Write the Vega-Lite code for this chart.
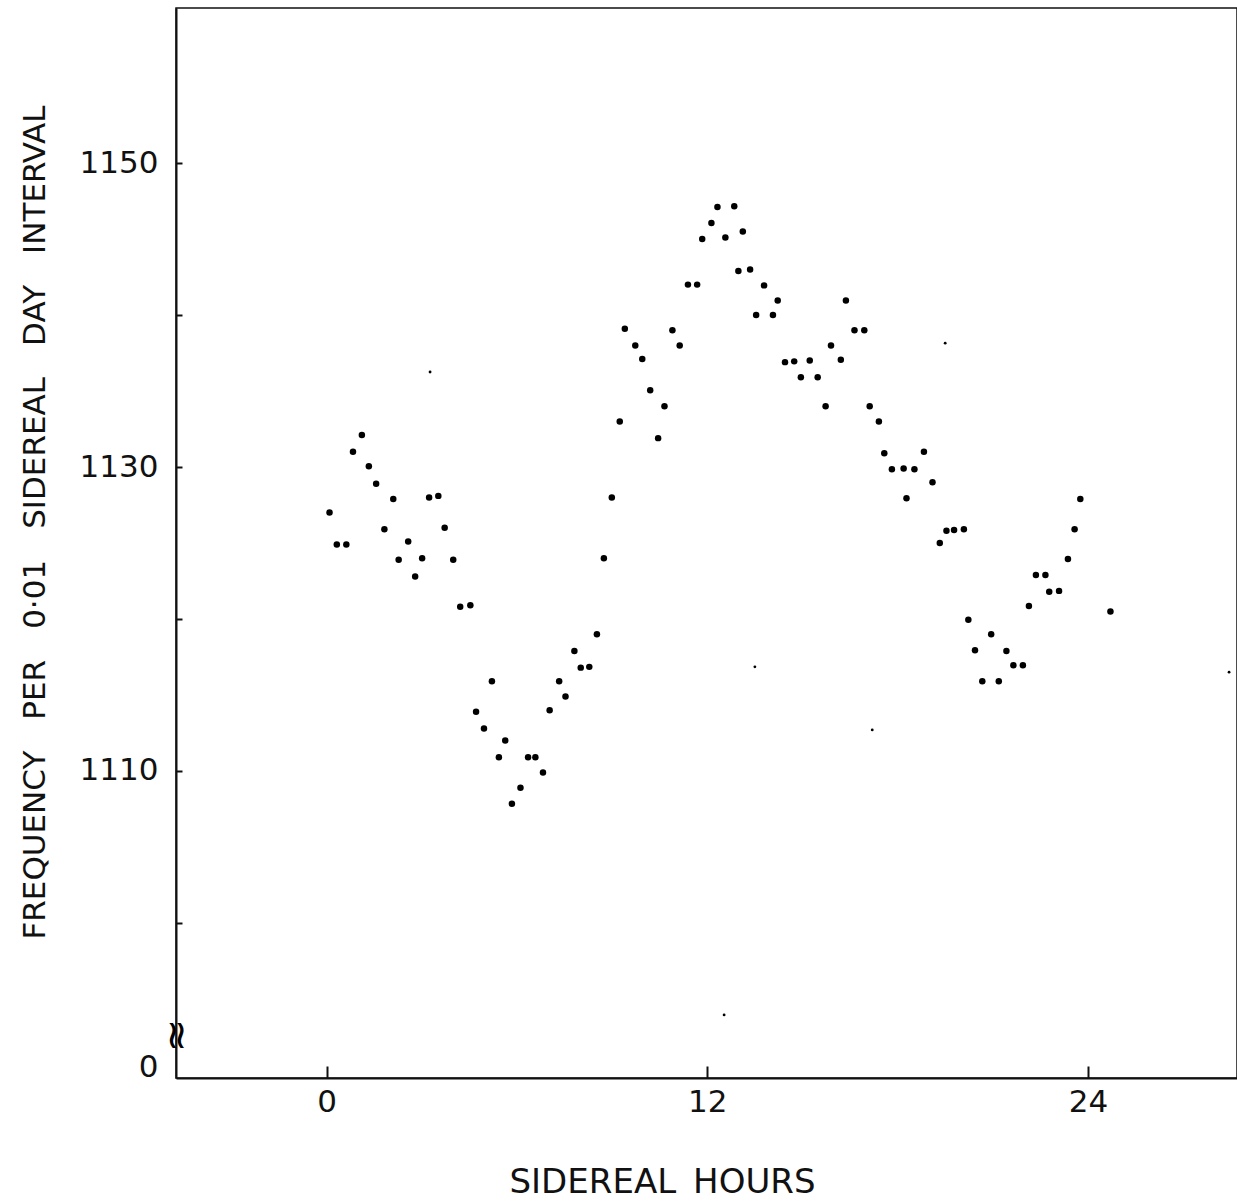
{
  "$schema": "https://vega.github.io/schema/vega-lite/v6.json",
  "width": 1061,
  "height": 1070,
  "autosize": {"type": "none"},
  "padding": {"left": 176, "top": 8, "right": 0, "bottom": 124},
  "background": "white",
  "config": {
    "view": {"stroke": "#111", "strokeWidth": 1.5},
    "font": "DejaVu Sans",
    "axis": {"grid": false, "domainColor": "#111", "domainWidth": 2, "tickColor": "#111", "tickWidth": 2, "labelColor": "#111", "titleColor": "#111", "titleFontWeight": "normal", "labelFont": "DejaVu Sans", "titleFont": "DejaVu Sans"}
  },
  "datasets": {
    "dots": [
      {"h": 0.09, "f": 1127.0}, {"h": 0.32, "f": 1124.9}, {"h": 0.62, "f": 1124.9}, {"h": 0.83, "f": 1131.0},
      {"h": 1.11, "f": 1132.1}, {"h": 1.33, "f": 1130.05}, {"h": 1.56, "f": 1128.9}, {"h": 1.82, "f": 1125.9},
      {"h": 2.10, "f": 1127.9}, {"h": 2.27, "f": 1123.9}, {"h": 2.57, "f": 1125.1}, {"h": 2.79, "f": 1122.8},
      {"h": 3.01, "f": 1124.0}, {"h": 3.23, "f": 1128.0}, {"h": 3.52, "f": 1128.1}, {"h": 3.72, "f": 1126.0},
      {"h": 3.99, "f": 1123.9}, {"h": 4.21, "f": 1120.8}, {"h": 4.53, "f": 1120.9}, {"h": 4.71, "f": 1113.9},
      {"h": 4.96, "f": 1112.8}, {"h": 5.21, "f": 1115.9}, {"h": 5.43, "f": 1110.9}, {"h": 5.63, "f": 1112.0},
      {"h": 5.84, "f": 1107.85}, {"h": 6.11, "f": 1108.9}, {"h": 6.35, "f": 1110.9}, {"h": 6.58, "f": 1110.9},
      {"h": 6.82, "f": 1109.9}, {"h": 7.03, "f": 1114.0}, {"h": 7.33, "f": 1115.9}, {"h": 7.53, "f": 1114.9},
      {"h": 7.81, "f": 1117.9}, {"h": 8.01, "f": 1116.8}, {"h": 8.28, "f": 1116.85}, {"h": 8.52, "f": 1119.0},
      {"h": 8.74, "f": 1124.0}, {"h": 8.99, "f": 1128.0}, {"h": 9.24, "f": 1133.0}, {"h": 9.40, "f": 1139.1},
      {"h": 9.73, "f": 1138.0}, {"h": 9.95, "f": 1137.1}, {"h": 10.20, "f": 1135.05}, {"h": 10.45, "f": 1131.9},
      {"h": 10.65, "f": 1134.0}, {"h": 10.90, "f": 1139.0}, {"h": 11.13, "f": 1138.0}, {"h": 11.39, "f": 1142.0},
      {"h": 11.68, "f": 1142.0}, {"h": 11.84, "f": 1145.0}, {"h": 12.13, "f": 1146.05}, {"h": 12.32, "f": 1147.1},
      {"h": 12.57, "f": 1145.1}, {"h": 12.85, "f": 1147.15}, {"h": 13.12, "f": 1145.5}, {"h": 12.98, "f": 1142.9},
      {"h": 13.35, "f": 1143.0}, {"h": 13.54, "f": 1140.0}, {"h": 13.79, "f": 1141.95}, {"h": 14.07, "f": 1140.0},
      {"h": 14.22, "f": 1140.95}, {"h": 14.45, "f": 1136.9}, {"h": 14.74, "f": 1136.95}, {"h": 14.95, "f": 1135.9},
      {"h": 15.23, "f": 1137.0}, {"h": 15.48, "f": 1135.9}, {"h": 15.73, "f": 1134.0}, {"h": 15.90, "f": 1138.0},
      {"h": 16.21, "f": 1137.05}, {"h": 16.37, "f": 1140.95}, {"h": 16.64, "f": 1139.0}, {"h": 16.95, "f": 1139.0},
      {"h": 17.12, "f": 1134.0}, {"h": 17.41, "f": 1133.0}, {"h": 17.58, "f": 1130.9}, {"h": 17.82, "f": 1129.85},
      {"h": 18.19, "f": 1129.9}, {"h": 18.28, "f": 1127.95}, {"h": 18.53, "f": 1129.85}, {"h": 18.83, "f": 1131.0},
      {"h": 19.10, "f": 1129.0}, {"h": 19.33, "f": 1125.0}, {"h": 19.54, "f": 1125.8}, {"h": 19.78, "f": 1125.85},
      {"h": 20.09, "f": 1125.9}, {"h": 20.23, "f": 1119.95}, {"h": 20.44, "f": 1117.95}, {"h": 20.67, "f": 1115.9},
      {"h": 20.95, "f": 1119.0}, {"h": 21.19, "f": 1115.9}, {"h": 21.43, "f": 1117.9}, {"h": 21.65, "f": 1116.95},
      {"h": 21.95, "f": 1116.95}, {"h": 22.14, "f": 1120.85}, {"h": 22.36, "f": 1122.9}, {"h": 22.66, "f": 1122.9},
      {"h": 22.78, "f": 1121.8}, {"h": 23.09, "f": 1121.85}, {"h": 23.37, "f": 1123.95}, {"h": 23.58, "f": 1125.9},
      {"h": 23.76, "f": 1127.9}, {"h": 24.71, "f": 1120.5}
    ],
    "specks": [
      {"h": 3.26, "f": 1136.25}, {"h": 13.50, "f": 1116.85}, {"h": 17.20, "f": 1112.7},
      {"h": 19.50, "f": 1138.15}, {"h": 12.53, "f": 1093.95}, {"h": 28.45, "f": 1116.5}
    ],
    "brk": [{"h": -4.75, "f": 1092.6, "t": "≈"}]
  },
  "layer": [
    {
      "data": {"name": "dots"},
      "mark": {"type": "point", "filled": true, "shape": "circle", "color": "#000", "opacity": 1, "size": 42},
      "encoding": {
        "x": {
          "field": "h", "type": "quantitative",
          "scale": {"domain": [-4.75, 28.7], "nice": false, "zero": false},
          "axis": {
            "values": [0, 12, 24], "format": "d", "tickSize": -12, "labelPadding": 21, "labelFontSize": 31,
            "title": "SIDEREAL\u2002HOURS", "titleFontSize": 34, "titleX": 486, "titleY": 104, "titleBaseline": "middle", "titleAnchor": "middle"
          }
        },
        "y": {
          "field": "f", "type": "quantitative",
          "scale": {"domain": [1089.8, 1160.2], "nice": false, "zero": false},
          "axis": {
            "values": [1090.5, 1100, 1110, 1120, 1130, 1140, 1150], "format": "d",
            "labelExpr": "datum.value < 1095 ? '0' : (datum.value % 20 == 10 ? datum.label : '')",
            "tickSize": -6, "tickOpacity": {"condition": {"test": "datum.value < 1095", "value": 0}, "value": 1},
            "labelPadding": 24, "labelFontSize": 31,
            "title": "FREQUENCY\u2003PER\u20030·01\u2003SIDEREAL\u2003DAY\u2003INTERVAL", "titleFontSize": 31,
            "titleX": -141, "titleY": 514, "titleBaseline": "middle", "titleAnchor": "middle", "titleAngle": -90
          }
        }
      }
    },
    {
      "data": {"name": "specks"},
      "mark": {"type": "point", "filled": true, "shape": "circle", "color": "#000", "opacity": 1, "size": 8},
      "encoding": {
        "x": {"field": "h", "type": "quantitative"},
        "y": {"field": "f", "type": "quantitative"}
      }
    },
    {
      "data": {"name": "brk"},
      "mark": {"type": "text", "fontSize": 40, "angle": 90, "fill": "#000", "opacity": 1},
      "encoding": {
        "x": {"field": "h", "type": "quantitative"},
        "y": {"field": "f", "type": "quantitative"},
        "text": {"field": "t"}
      }
    }
  ]
}
